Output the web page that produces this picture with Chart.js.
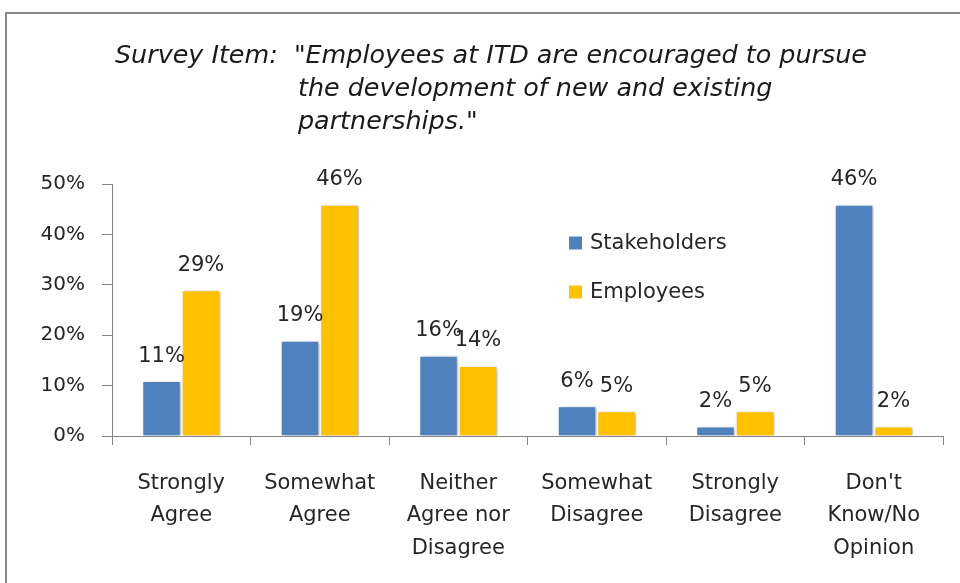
<!DOCTYPE html>
<html>
<head>
<meta charset="utf-8">
<script src="https://cdn.jsdelivr.net/npm/chart.js@4.4.1/dist/chart.umd.min.js"></script>
<style>
    html, body { margin: 0; padding: 0; background: #fff; overflow: hidden; }
    #wrap { position: relative; width: 960px; height: 583px; }
    #frame { position: absolute; left: 5px; top: 12px; width: 1000px; height: 620px; border: 2px solid #878787; box-sizing: border-box; }
    canvas { position: absolute; left: 0; top: 0; }
</style>
</head>
<body>
<div id="wrap">
    <div id="frame"></div>
    <canvas id="survey_chart" width="960" height="583"></canvas>
</div>
<script>
// ---- data ----
const categories = [
    ["Strongly", "Agree"],
    ["Somewhat", "Agree"],
    ["Neither", "Agree nor", "Disagree"],
    ["Somewhat", "Disagree"],
    ["Strongly", "Disagree"],
    ["Don't", "Know/No", "Opinion"],
];
const stakeholders = [11, 19, 16, 6, 2, 46];
const employees = [29, 46, 14, 5, 5, 2];
const seriesNames = ["Stakeholders", "Employees"];
const seriesColors = ["#4F81BD", "#FFC000"];
const yTicks = [0, 10, 20, 30, 40, 50];
const titleLines = [
    'Survey Item:  "Employees at ITD are encouraged to pursue',
    "the development of new and existing",
    'partnerships."',
];

const textColor = "#262626";
const axisColor = "#868686";
const baseFont = "'DejaVu Sans', sans-serif";

// title drawn by hand so lines 2 and 3 hang under the quote
const titlePlugin = {
    id: "surveyTitle",
    afterDraw(chart) {
        const ctx = chart.ctx;
        ctx.save();
        ctx.font = "oblique 25.4px " + baseFont;
        ctx.fillStyle = "#1a1a1a";
        ctx.textBaseline = "alphabetic";
        ctx.textAlign = "left";
        ctx.fillText(titleLines[0], 115, 63);
        ctx.fillText(titleLines[1], 298, 96);
        ctx.fillText(titleLines[2], 298, 129);
        ctx.restore();
    },
};

// legend sits inside the plot area
const legendPlugin = {
    id: "innerLegend",
    afterDraw(chart) {
        const ctx = chart.ctx;
        ctx.save();
        ctx.font = "21px " + baseFont;
        ctx.textBaseline = "middle";
        chart.data.datasets.forEach((ds, i) => {
            const y = 243 + i * 49;
            ctx.fillStyle = ds.backgroundColor;
            ctx.fillRect(569, y - 6.5, 13, 13);
            ctx.fillStyle = textColor;
            ctx.fillText(ds.label, 590, y + 1);
        });
        ctx.restore();
    },
};

// soft shadow under the bars + value labels on top
const barDecor = {
    id: "barDecor",
    beforeDatasetsDraw(chart) {
        const ctx = chart.ctx;
        ctx.save();
        ctx.shadowColor = "rgba(0,0,0,0.28)";
        ctx.shadowBlur = 4;
        ctx.shadowOffsetX = 2;
        ctx.shadowOffsetY = 1;
    },
    afterDatasetsDraw(chart) {
        const ctx = chart.ctx;
        ctx.restore();
        ctx.save();
        ctx.font = "21px " + baseFont;
        ctx.fillStyle = textColor;
        ctx.textAlign = "center";
        ctx.textBaseline = "alphabetic";
        chart.data.datasets.forEach((ds, i) => {
            chart.getDatasetMeta(i).data.forEach((bar, j) => {
                ctx.fillText(ds.data[j] + "%", bar.x, bar.y - 19);
            });
        });
        ctx.restore();
    },
};

new Chart(document.getElementById("survey_chart"), {
    type: "bar",
    data: {
        labels: categories,
        datasets: [
            {
                label: seriesNames[0],
                data: stakeholders,
                backgroundColor: seriesColors[0],
                borderColor: "#ffffff",
                borderWidth: 1.5,
            },
            {
                label: seriesNames[1],
                data: employees,
                backgroundColor: seriesColors[1],
                borderColor: "#ffffff",
                borderWidth: 1.5,
            },
        ],
    },
    options: {
        responsive: false,
        animation: false,
        devicePixelRatio: 1,
        layout: { padding: { top: 184, right: 17, left: 0, bottom: 0 } },
        datasets: { bar: { categoryPercentage: 0.57, barPercentage: 1.0 } },
        plugins: {
            legend: { display: false },
            title: { display: false },
            tooltip: { enabled: false },
        },
        scales: {
            x: {
                border: { color: axisColor, width: 1 },
                grid: { display: true, drawOnChartArea: false, color: axisColor, tickLength: 9, offset: true },
                ticks: {
                    color: textColor,
                    font: { family: baseFont, size: 21, lineHeight: 1.55 },
                    padding: 22,
                    maxRotation: 0,
                    autoSkip: false,
                },
                afterFit(scale) { scale.height = 147; },
            },
            y: {
                min: 0,
                max: 50,
                afterBuildTicks(scale) { scale.ticks = yTicks.map(v => ({ value: v })); },
                border: { color: axisColor, width: 1 },
                grid: { display: true, drawOnChartArea: false, color: axisColor, tickLength: 10 },
                ticks: {
                    color: textColor,
                    font: { family: baseFont, size: 20 },
                    padding: 17,
                    callback: v => v + "%",
                },
                afterFit(scale) { scale.width = 112; },
            },
        },
    },
    plugins: [titlePlugin, legendPlugin, barDecor],
});
</script>
</body>
</html>
